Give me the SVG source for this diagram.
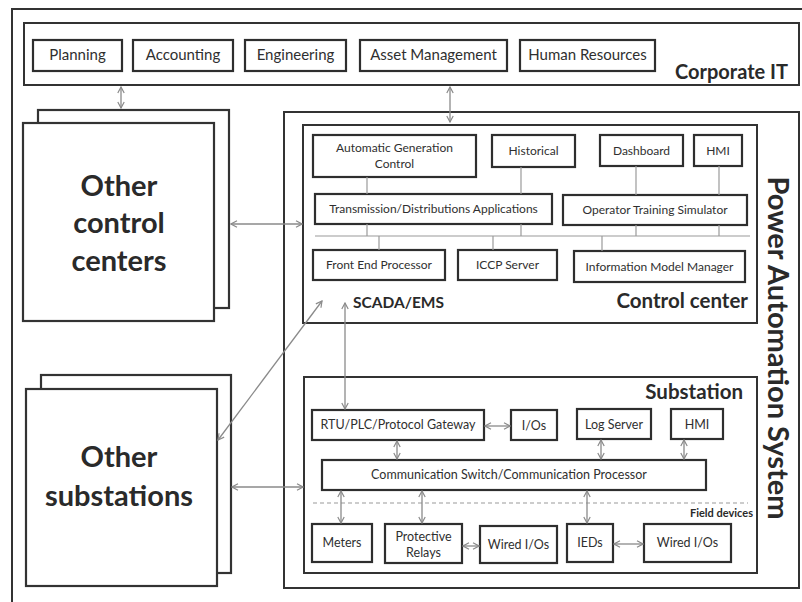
<svg xmlns="http://www.w3.org/2000/svg" width="802" height="602" viewBox="0 0 802 602">
  <defs>
    <marker id="ah" viewBox="0 0 8 8" refX="7" refY="4" markerWidth="8" markerHeight="8" markerUnits="userSpaceOnUse" orient="auto-start-reverse">
      <path d="M1,0.8 L7,4 L1,7.2" fill="none" stroke="#8a8a8a" stroke-width="1.2"/>
    </marker>
    <style>
      .frame { fill: none; stroke: #333; stroke-width: 2; }
      .box { fill: #fff; stroke: #2e2e2e; stroke-width: 2.2; }
      .big { fill: #fff; stroke: #333; stroke-width: 2.2; }
      .lbl { font-family: Lato, "Liberation Sans", sans-serif; fill: #2f2f2f; text-anchor: middle; }
      .s15 { font-size: 15px; }
      .s12 { font-size: 12px; }
      .s13 { font-size: 12.5px; }
      .title { font-family: Lato, "Liberation Sans", sans-serif; font-weight: bold; fill: #2a2a2a; }
      .link { fill: none; stroke: #9a9a9a; stroke-width: 1.2; }
      .arr { fill: none; stroke: #8a8a8a; stroke-width: 1.3; marker-start: url(#ah); marker-end: url(#ah); }
      .dash { fill: none; stroke: #9a9a9a; stroke-width: 1.2; stroke-dasharray: 4 3; }
    </style>
  </defs>

  <rect x="0" y="0" width="802" height="602" fill="#fff"/>

  <!-- enclosing frame (runs off the page right and bottom) -->
  <rect class="frame" x="12" y="9" width="800" height="600"/>

  <!-- Corporate IT -->
  <g id="corporate-it">
    <rect class="frame" x="24" y="23" width="775" height="62"/>
    <text class="title" x="788" y="79" font-size="20" text-anchor="end">Corporate IT</text>
  </g>
  <g id="planning"><rect class="box" x="33" y="40" width="89" height="31"/><text class="lbl s15" x="77.5" y="60">Planning</text></g>
  <g id="accounting"><rect class="box" x="133" y="40" width="100" height="31"/><text class="lbl s15" x="183" y="60">Accounting</text></g>
  <g id="engineering"><rect class="box" x="245" y="40" width="101" height="31"/><text class="lbl s15" x="295.5" y="60">Engineering</text></g>
  <g id="asset-management"><rect class="box" x="360" y="40" width="147" height="31"/><text class="lbl s15" x="433.5" y="60">Asset Management</text></g>
  <g id="human-resources"><rect class="box" x="520" y="40" width="135" height="31"/><text class="lbl s15" x="587.5" y="60">Human Resources</text></g>

  <!-- Other control centers -->
  <g id="other-control-centers">
    <rect class="big" x="38" y="110" width="191" height="198"/>
    <rect class="big" x="23" y="123" width="191" height="198"/>
    <text class="title" x="119" y="196" font-size="29" text-anchor="middle">Other</text>
    <text class="title" x="119" y="233" font-size="29" text-anchor="middle">control</text>
    <text class="title" x="119" y="271" font-size="29" text-anchor="middle">centers</text>
  </g>

  <!-- Other substations -->
  <g id="other-substations">
    <rect class="big" x="41" y="375" width="190" height="198"/>
    <rect class="big" x="26" y="389" width="191" height="197"/>
    <text class="title" x="119" y="467" font-size="29" text-anchor="middle">Other</text>
    <text class="title" x="119" y="506" font-size="29" text-anchor="middle">substations</text>
  </g>

  <!-- Power Automation System -->
  <g id="power-automation-system">
    <rect class="frame" x="284" y="112" width="515" height="476"/>
    <text class="title" font-size="29" text-anchor="middle" transform="translate(768,348) rotate(90)">Power Automation System</text>
  </g>

  <!-- Control center -->
  <g id="control-center">
    <rect class="frame" x="303" y="125" width="454" height="198"/>
    <text class="title" x="748" y="308" font-size="20.5" text-anchor="end">Control center</text>
    <text class="title" x="353" y="308" font-size="15.5">SCADA/EMS</text>
  </g>
  <g id="agc"><rect class="box" x="313" y="135" width="163" height="42"/><text class="lbl s12" x="394.5" y="152">Automatic Generation</text><text class="lbl s12" x="394.5" y="168">Control</text></g>
  <g id="historical"><rect class="box" x="492" y="135" width="83" height="32"/><text class="lbl s12" x="533.5" y="155">Historical</text></g>
  <g id="dashboard"><rect class="box" x="600" y="135" width="83" height="31"/><text class="lbl s12" x="641.5" y="155">Dashboard</text></g>
  <g id="cc-hmi"><rect class="box" x="694" y="135" width="48" height="31"/><text class="lbl s12" x="718" y="155">HMI</text></g>
  <g id="td-applications"><rect class="box" x="315" y="194" width="237" height="30"/><text class="lbl s12" x="433.5" y="213">Transmission/Distributions Applications</text></g>
  <g id="ots"><rect class="box" x="563" y="195" width="184" height="30"/><text class="lbl s12" x="655" y="214">Operator Training Simulator</text></g>
  <g id="fep"><rect class="box" x="313" y="250" width="132" height="30"/><text class="lbl s12" x="379" y="269">Front End Processor</text></g>
  <g id="iccp"><rect class="box" x="458" y="250" width="99" height="30"/><text class="lbl s12" x="507.5" y="269">ICCP Server</text></g>
  <g id="imm"><rect class="box" x="574" y="251" width="171" height="31"/><text class="lbl s12" x="659.5" y="271">Information Model Manager</text></g>

  <!-- Substation -->
  <g id="substation">
    <rect class="frame" x="304" y="377" width="453" height="196"/>
    <text class="title" x="743" y="399" font-size="20.5" text-anchor="end">Substation</text>
    <text class="title" x="753" y="517" font-size="11" text-anchor="end">Field devices</text>
  </g>
  <g id="rtu"><rect class="box" x="312" y="410" width="172" height="30"/><text class="lbl s13" x="398" y="429">RTU/PLC/Protocol Gateway</text></g>
  <g id="ios"><rect class="box" x="511" y="410" width="46" height="30"/><text class="lbl s13" x="534" y="430">I/Os</text></g>
  <g id="log-server"><rect class="box" x="577" y="409" width="74" height="30"/><text class="lbl s13" x="614" y="429">Log Server</text></g>
  <g id="sub-hmi"><rect class="box" x="671" y="409" width="52" height="30"/><text class="lbl s13" x="697" y="429">HMI</text></g>
  <g id="comm-switch"><rect class="box" x="322" y="460" width="384" height="30"/><text class="lbl s13" x="509" y="479">Communication Switch/Communication Processor</text></g>
  <g id="meters"><rect class="box" x="312" y="524" width="60" height="38"/><text class="lbl s13" x="342" y="547">Meters</text></g>
  <g id="protective-relays"><rect class="box" x="385" y="524" width="77" height="39"/><text class="lbl s13" x="423.5" y="541">Protective</text><text class="lbl s13" x="423.5" y="557">Relays</text></g>
  <g id="wired-ios-1"><rect class="box" x="480" y="526" width="77" height="37"/><text class="lbl s13" x="518.5" y="549">Wired I/Os</text></g>
  <g id="ieds"><rect class="box" x="567" y="524" width="46" height="38"/><text class="lbl s13" x="590" y="547">IEDs</text></g>
  <g id="wired-ios-2"><rect class="box" x="644" y="524" width="87" height="38"/><text class="lbl s13" x="687.5" y="547">Wired I/Os</text></g>

  <!-- connectors -->
  <g id="connectors">
    <!-- control center bus -->
    <line class="link" x1="315" y1="236" x2="750" y2="236"/>
    <line class="link" x1="367" y1="177" x2="367" y2="194"/>
    <line class="link" x1="521" y1="167" x2="521" y2="194"/>
    <line class="link" x1="367" y1="224" x2="367" y2="236"/>
    <line class="link" x1="521" y1="224" x2="521" y2="236"/>
    <line class="link" x1="636" y1="166" x2="636" y2="195"/>
    <line class="link" x1="719" y1="166" x2="719" y2="195"/>
    <line class="link" x1="636" y1="225" x2="636" y2="236"/>
    <line class="link" x1="719" y1="225" x2="719" y2="236"/>
    <line class="link" x1="379" y1="236" x2="379" y2="250"/>
    <line class="link" x1="493" y1="236" x2="493" y2="250"/>
    <line class="link" x1="602" y1="236" x2="602" y2="251"/>

    <!-- field bus divider -->
    <line class="dash" x1="313" y1="503" x2="748" y2="503"/>

    <!-- inter-system links -->
    <line class="arr" x1="121" y1="87" x2="121" y2="108"/>
    <line class="arr" x1="450" y1="87" x2="450" y2="122"/>
    <line class="arr" x1="231" y1="224" x2="302" y2="224"/>
    <line class="arr" x1="232" y1="487" x2="303" y2="487"/>
    <line class="arr" x1="218" y1="440" x2="322" y2="301"/>
    <line class="arr" x1="345" y1="303" x2="345" y2="409"/>

    <!-- substation links -->
    <line class="arr" x1="485" y1="426" x2="510" y2="426"/>
    <line class="arr" x1="397" y1="441" x2="397" y2="459"/>
    <line class="arr" x1="601" y1="440" x2="601" y2="459"/>
    <line class="arr" x1="684" y1="440" x2="684" y2="459"/>
    <line class="arr" x1="341" y1="491" x2="341" y2="523"/>
    <line class="arr" x1="422" y1="491" x2="422" y2="523"/>
    <line class="arr" x1="587" y1="491" x2="587" y2="523"/>
    <line class="arr" x1="463" y1="546" x2="479" y2="546"/>
    <line class="arr" x1="614" y1="544" x2="643" y2="544"/>
  </g>
</svg>
